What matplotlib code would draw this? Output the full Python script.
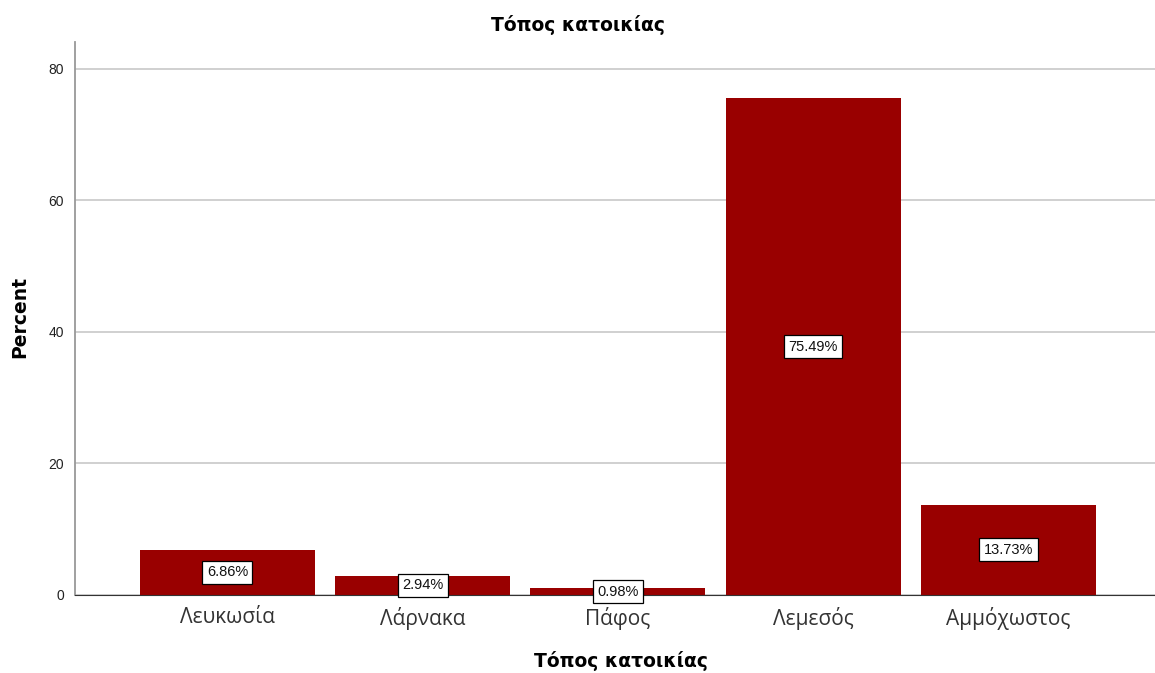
import matplotlib.pyplot as plt
import numpy as np

places = ["Λευκωσία", "Λάρνακα", "Πάφος", "Λεμεσός", "Αμμόχωστος"]
percent = [6.86, 2.94, 0.98, 75.49, 13.73]
yticks = [0, 20, 40, 60, 80]

plt.rcParams['font.family'] = ['Liberation Sans', 'DejaVu Sans']
heading = dict(family='DejaVu Sans', fontweight='bold', fontsize=13.5)


def residence_chart():
    fig = plt.figure(figsize=(11.55, 6.73), dpi=100)
    ax = fig.add_axes([0.065, 0.116, 0.935, 0.822])

    x = np.arange(len(places))
    ax.set_axisbelow(True)
    ax.yaxis.grid(True, color='#c8c8c8', linewidth=1.2)
    ax.bar(x, percent, width=0.896, color='#990000')

    # percentage boxes half way up each bar
    for xi, p in zip(x, percent):
        ax.text(xi, p / 2, f"{p:.2f}%", ha='center', va='center', fontsize=10.5,
                color='#111111',
                bbox=dict(boxstyle='square,pad=0.3', facecolor='white',
                          edgecolor='black', linewidth=0.9))

    ax.set_xlim(-0.78, 4.75)
    ax.set_ylim(0, 84.1)
    ax.set_yticks(yticks)
    ax.set_xticks(x)
    ax.set_xticklabels(places, fontsize=15, color='#333333', family='Open Sans')
    ax.tick_params(axis='y', labelsize=10, length=0, pad=8, labelcolor='#222222')
    ax.tick_params(axis='x', length=0, pad=9)

    for side in ['top', 'right']:
        ax.spines[side].set_visible(False)
    ax.spines['left'].set_color('#999999')
    ax.spines['left'].set_linewidth(1.3)
    ax.spines['bottom'].set_color('#333333')

    fig.text(578 / 1155, 1 - 25 / 673, "Τόπος κατοικίας", ha='center', va='center', **heading)
    fig.text(621 / 1155, 1 - 661 / 673, "Τόπος κατοικίας", ha='center', va='center', **heading)
    fig.text(20 / 1155, 1 - 317 / 673, "Percent", ha='center', va='center',
             rotation=90, **heading)

    fig.savefig("out.png", dpi=100)


if __name__ == "__main__":
    residence_chart()
